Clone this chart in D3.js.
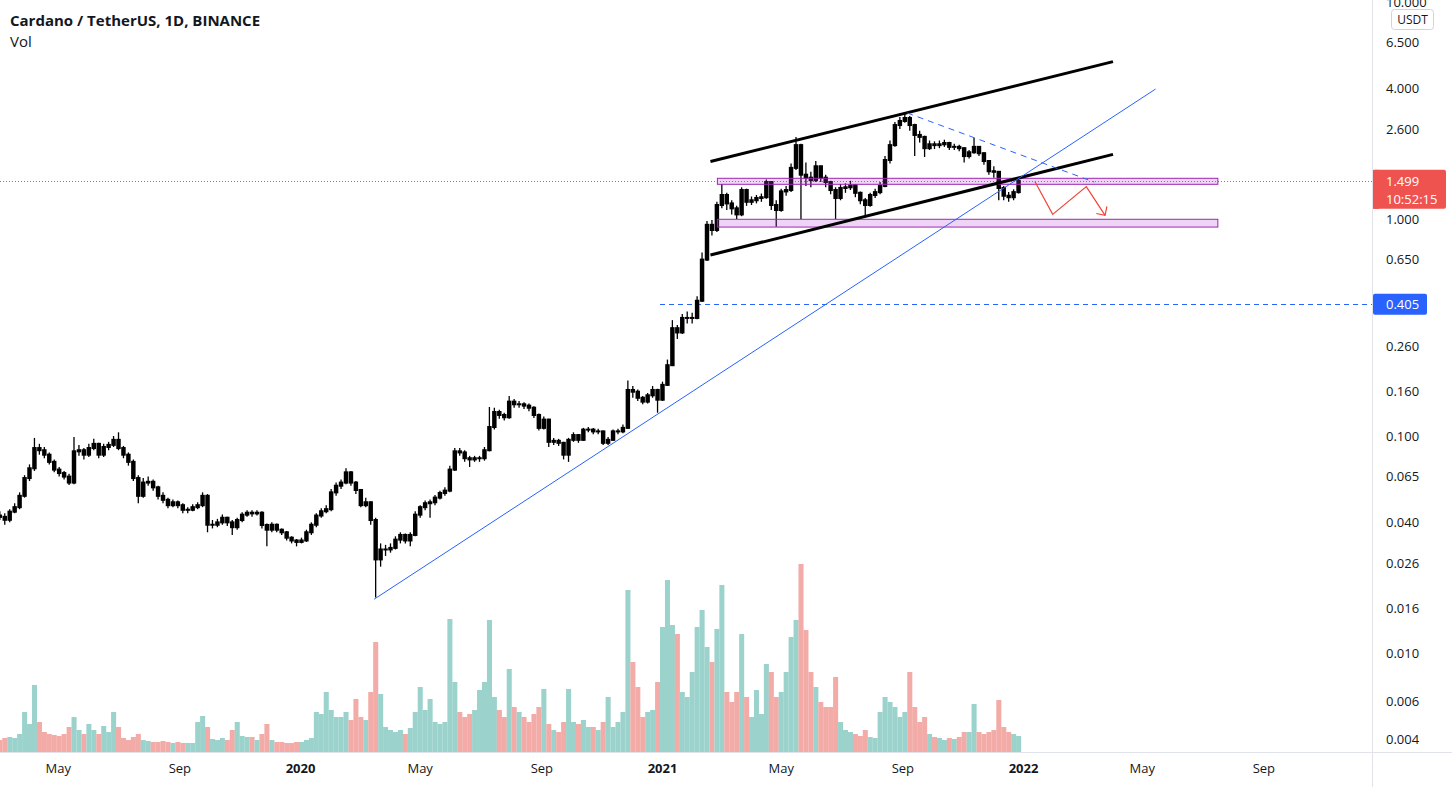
<!DOCTYPE html>
<html><head><meta charset="utf-8">
<script src="https://cdn.jsdelivr.net/npm/d3@7"></script>
<style>
html,body{margin:0;padding:0;background:#fff;overflow:hidden;}
svg{display:block;font-family:"Open Sans","Noto Sans",sans-serif;}
</style></head><body>
<svg id="chart" width="1452" height="787"></svg>
<script>
// ---------- data (5-day candles) ----------
const periodStart = "2019-03-01";
const periodDays = 5;
const firstOpen = 0.043;
const closes = [
0.0424,0.0411,0.0448,0.047,0.053,0.064,0.071,0.088,0.086,0.082,
0.076,0.070,0.0675,0.065,0.061,0.085,0.086,0.082,0.088,0.092,
0.082,0.089,0.091,0.096,0.088,0.082,0.076,0.064,0.053,0.061,
0.0615,0.058,0.053,0.0508,0.048,0.0495,0.048,0.0457,0.0457,0.047,
0.048,0.053,0.039,0.039,0.040,0.042,0.040,0.038,0.041,0.0434,
0.0443,0.044,0.0443,0.0389,0.037,0.039,0.037,0.036,0.034,0.033,
0.0325,0.033,0.036,0.039,0.043,0.045,0.046,0.055,0.059,0.061,
0.068,0.061,0.0564,0.048,0.0495,0.041,0.027,0.030,0.030,0.0305,
0.0333,0.035,0.033,0.035,0.0434,0.047,0.049,0.0495,0.052,0.0546,
0.056,0.070,0.085,0.084,0.079,0.078,0.079,0.079,0.086,0.110,
0.129,0.125,0.122,0.144,0.140,0.140,0.138,0.135,0.125,0.109,
0.119,0.094,0.095,0.093,0.082,0.096,0.101,0.096,0.107,0.107,
0.105,0.105,0.093,0.096,0.105,0.105,0.109,0.163,0.160,0.150,
0.144,0.154,0.163,0.147,0.172,0.212,0.314,0.300,0.350,0.350,
0.350,0.420,0.650,0.94,0.89,1.16,1.29,1.18,1.12,1.05,
1.36,1.20,1.22,1.25,1.26,1.48,1.16,1.10,1.34,1.36,
1.72,2.19,1.60,1.55,1.51,1.75,1.55,1.48,1.36,1.25,
1.39,1.40,1.43,1.32,1.22,1.16,1.29,1.33,1.42,1.87,
2.19,2.71,2.83,2.92,2.71,2.44,2.39,2.12,2.21,2.19,
2.21,2.24,2.15,2.15,2.12,1.95,2.03,2.15,2.01,1.85,
1.66,1.65,1.39,1.28,1.26,1.33,1.499
];
const highs = [
0.045,0.044,0.046,0.049,0.055,0.066,0.074,0.098,0.092,0.089,
0.084,0.078,0.072,0.069,0.067,0.099,0.091,0.088,0.092,0.097,
0.093,0.092,0.094,0.100,0.104,0.090,0.084,0.078,0.066,0.064,
0.065,0.063,0.059,0.055,0.052,0.051,0.0505,0.049,0.047,0.0485,
0.0495,0.055,0.054,0.041,0.0415,0.0435,0.0425,0.041,0.042,0.0445,
0.0455,0.0455,0.0455,0.045,0.0395,0.040,0.0395,0.0375,0.0365,0.0345,
0.0335,0.034,0.037,0.040,0.044,0.0465,0.048,0.057,0.061,0.063,
0.071,0.069,0.062,0.057,0.052,0.050,0.042,0.032,0.0315,0.032,
0.0345,0.036,0.0355,0.036,0.045,0.048,0.0505,0.051,0.0535,0.056,
0.058,0.073,0.088,0.088,0.086,0.081,0.081,0.081,0.089,0.136,
0.135,0.132,0.128,0.153,0.148,0.145,0.143,0.141,0.137,0.127,
0.123,0.120,0.098,0.097,0.094,0.098,0.104,0.102,0.109,0.110,
0.109,0.108,0.106,0.099,0.107,0.108,0.113,0.180,0.170,0.164,
0.153,0.158,0.170,0.165,0.178,0.225,0.342,0.325,0.365,0.375,
0.370,0.440,0.700,0.98,0.99,1.20,1.45,1.32,1.22,1.15,
1.40,1.38,1.27,1.29,1.31,1.52,1.49,1.22,1.38,1.42,
1.80,2.39,2.22,1.82,1.65,1.85,1.76,1.60,1.50,1.40,
1.45,1.46,1.50,1.45,1.34,1.25,1.32,1.38,1.48,1.95,
2.30,2.80,2.95,3.10,2.98,2.75,2.55,2.42,2.30,2.28,
2.30,2.32,2.27,2.22,2.20,2.14,2.08,2.36,2.17,2.03,
1.87,1.75,1.66,1.42,1.33,1.37,1.52
];
const lows = [
0.041,0.039,0.040,0.044,0.046,0.052,0.062,0.069,0.082,0.079,
0.074,0.068,0.065,0.063,0.0595,0.060,0.081,0.078,0.080,0.086,
0.079,0.080,0.086,0.089,0.086,0.079,0.073,0.062,0.049,0.052,
0.059,0.056,0.051,0.049,0.0465,0.047,0.0465,0.044,0.044,0.045,
0.046,0.047,0.036,0.0375,0.038,0.039,0.0385,0.035,0.037,0.040,
0.0425,0.0425,0.043,0.0375,0.031,0.036,0.036,0.035,0.033,0.032,
0.031,0.032,0.0325,0.035,0.038,0.042,0.044,0.045,0.053,0.057,
0.060,0.059,0.054,0.047,0.047,0.039,0.018,0.025,0.028,0.029,
0.030,0.032,0.032,0.031,0.0345,0.042,0.0455,0.042,0.048,0.051,
0.053,0.055,0.069,0.081,0.076,0.072,0.076,0.076,0.077,0.085,
0.107,0.120,0.118,0.120,0.135,0.135,0.133,0.130,0.121,0.106,
0.107,0.089,0.091,0.090,0.078,0.076,0.094,0.093,0.095,0.104,
0.102,0.102,0.091,0.091,0.095,0.102,0.103,0.108,0.150,0.145,
0.140,0.141,0.150,0.128,0.145,0.170,0.210,0.280,0.295,0.330,
0.330,0.345,0.415,0.64,0.84,0.87,1.12,1.10,1.05,1.00,
1.03,1.15,1.16,1.18,1.20,1.24,1.10,0.92,1.08,1.28,
1.33,1.68,1.00,1.42,1.40,1.48,1.48,1.40,1.30,1.00,
1.22,1.32,1.36,1.26,1.17,1.02,1.14,1.25,1.30,1.40,
1.80,2.15,2.60,2.78,2.55,1.95,2.25,1.93,2.08,2.10,
2.12,2.15,2.08,2.08,2.05,1.82,1.90,2.00,1.95,1.78,
1.60,1.55,1.22,1.22,1.20,1.22,1.31
];
// volume, tens of millions ADA
const volumes = [
12,14,15,14,18,40,28,67,30,20,
18,17,16,18,25,35,22,18,28,22,
18,26,20,40,25,14,12,15,18,12,
11,10,10,11,10,9,10,9,9,9,
30,36,25,13,12,14,12,22,30,16,
15,15,12,18,28,12,10,10,9,9,
10,10,12,14,40,38,60,42,35,35,
40,32,53,35,32,60,110,58,25,22,
20,22,18,24,40,65,42,53,30,28,
30,133,70,40,35,38,42,62,70,132,
55,42,35,83,45,40,35,30,38,45,
63,28,22,20,30,63,30,28,32,25,
25,22,30,55,25,30,40,162,90,65,
35,40,42,70,125,172,127,118,60,55,
80,125,142,105,90,123,167,60,50,60,
118,55,35,62,38,88,80,55,60,80,
115,132,188,122,80,65,50,45,45,75,
30,22,20,18,16,22,15,14,40,55,
50,45,35,40,80,45,30,35,18,15,
14,12,14,13,15,20,20,48,20,18,
20,22,52,25,20,18,16
];
const priceTicks = [10, 6.5, 4, 2.6, 1.6, 1, 0.65, 0.26, 0.16, 0.1, 0.065, 0.04, 0.026, 0.016, 0.01, 0.006, 0.004];
const timeTicks = ["2019-05-01","2019-09-01","2020-01-01","2020-05-01","2020-09-01","2021-01-01","2021-05-01","2021-09-01","2022-01-01","2022-05-01","2022-09-01"];
const timeTickLabels = ["May","Sep","2020","May","Sep","2021","May","Sep","2022","May","Sep"];
const lastPrice = 1.499;
const countdown = "10:52:15";
const levelPrice = 0.405;
const levelStart = "2020-12-30";
const channelUpper = [["2021-02-19",1.84],["2022-04-02",5.31]];
const channelLower = [["2021-02-19",0.682],["2022-04-02",1.986]];
const trendLine = [["2020-03-16",0.0177],["2022-05-15",3.97]];
const dashedTrend = [["2021-09-06",3.08],["2022-03-14",1.48]];
const zones = [
  {from:"2021-02-26", to:"2022-07-17", top:1.54, bottom:1.445},
  {from:"2021-02-26", to:"2022-07-17", top:0.997, bottom:0.918}
];
const arrowPath = [["2022-01-13",1.49],["2022-01-31",1.05],["2022-03-06",1.41],["2022-03-25",1.04]];

// ---------- layout ----------
const W = 1452, H = 787, paneRight = 1372, paneBottom = 752;
const parse = d3.utcParse("%Y-%m-%d");
const x = d3.scaleUtc().domain([parse("2020-01-01"), parse("2022-01-01")]).range([300, 1023]);
const y = d3.scaleLog().domain([1, 0.1]).range([219, 436]);
const yVol = d3.scaleLinear().domain([0, 188]).range([paneBottom, paneBottom - 188]);

const svg = d3.select("#chart");
svg.append("rect").attr("width", W).attr("height", H).attr("fill", "#fff");
svg.append("defs").append("clipPath").attr("id", "pane")
  .append("rect").attr("x", 0).attr("y", 0).attr("width", paneRight).attr("height", paneBottom);
const pane = svg.append("g").attr("clip-path", "url(#pane)");

const start = parse(periodStart);
const candles = closes.map((c, i) => {
  const t0 = d3.utcDay.offset(start, i * periodDays);
  const t1 = d3.utcDay.offset(start, (i + 1) * periodDays);
  const open = i === 0 ? firstOpen : closes[i - 1];
  return {t0, t1, open, close: c, high: highs[i], low: lows[i], vol: volumes[i]};
});
const cx = d => (x(d.t0) + x(d.t1)) / 2;
const step = d => (x(d.t1) - x(d.t0));

// volume
pane.append("g").selectAll("rect").data(candles).join("rect")
  .attr("x", d => cx(d) - step(d) / 2)
  .attr("width", d => step(d) + 0.1)
  .attr("y", d => yVol(d.vol))
  .attr("height", d => paneBottom - yVol(d.vol))
  .attr("fill", d => d.close >= d.open ? "#9bd3cc" : "#f3aba7");

// last price dotted line
pane.append("line").attr("x1", 0).attr("x2", paneRight)
  .attr("y1", Math.round(y(lastPrice)) + 0.5).attr("y2", Math.round(y(lastPrice)) + 0.5)
  .attr("stroke", "#ef5350").attr("stroke-width", 1).attr("stroke-dasharray", "1,2");

// horizontal level
pane.append("line").attr("x1", x(parse(levelStart))).attr("x2", paneRight)
  .attr("y1", Math.round(y(levelPrice)) + 0.5).attr("y2", Math.round(y(levelPrice)) + 0.5)
  .attr("stroke", "#2962ff").attr("stroke-width", 1).attr("stroke-dasharray", "5,4");

// candles
const cg = pane.append("g");
cg.selectAll("line").data(candles).join("line")
  .attr("x1", cx).attr("x2", cx)
  .attr("y1", d => y(d.high)).attr("y2", d => y(d.low))
  .attr("stroke", "#000").attr("stroke-width", 1.3);
cg.selectAll("rect").data(candles).join("rect")
  .attr("x", d => cx(d) - step(d) * 0.45)
  .attr("width", d => step(d) * 0.9)
  .attr("y", d => y(Math.max(d.open, d.close)) - 1)
  .attr("height", d => Math.max(2, Math.abs(y(d.open) - y(d.close)) + 2))
  .attr("fill", "#000");

// zones
pane.append("g").selectAll("rect").data(zones).join("rect")
  .attr("x", d => x(parse(d.from))).attr("width", d => x(parse(d.to)) - x(parse(d.from)))
  .attr("y", d => y(d.top)).attr("height", d => y(d.bottom) - y(d.top))
  .attr("fill", "rgba(186,60,210,0.22)").attr("stroke", "#9c27b0").attr("stroke-width", 1);

const pt = p => [x(parse(p[0])), y(p[1])];
const line = d3.line();
// channel
[channelUpper, channelLower].forEach(c => {
  pane.append("path").attr("d", line(c.map(pt))).attr("stroke", "#000")
    .attr("stroke-width", 3).attr("fill", "none");
});
// trend lines
pane.append("path").attr("d", line(trendLine.map(pt))).attr("stroke", "#2962ff")
  .attr("stroke-width", 1).attr("fill", "none");
pane.append("path").attr("d", line(dashedTrend.map(pt))).attr("stroke", "#2962ff")
  .attr("stroke-width", 1).attr("stroke-dasharray", "6,5").attr("fill", "none");
// arrow
const ap = arrowPath.map(pt);
pane.append("path").attr("d", line(ap)).attr("stroke", "#f44336")
  .attr("stroke-width", 1.2).attr("fill", "none");
{
  const [a, b] = ap.slice(-2);
  const ang = Math.atan2(b[1] - a[1], b[0] - a[0]);
  const L = 9;
  const w1 = [b[0] - L * Math.cos(ang - Math.PI / 4), b[1] - L * Math.sin(ang - Math.PI / 4)];
  const w2 = [b[0] - L * Math.cos(ang + Math.PI / 4), b[1] - L * Math.sin(ang + Math.PI / 4)];
  pane.append("path").attr("d", line([w1, b, w2])).attr("stroke", "#f44336")
    .attr("stroke-width", 1.2).attr("fill", "none");
}

// separators
svg.append("line").attr("x1", 0).attr("x2", W).attr("y1", paneBottom + 0.5).attr("y2", paneBottom + 0.5)
  .attr("stroke", "#e0e3eb");
svg.append("line").attr("x1", paneRight + 0.5).attr("x2", paneRight + 0.5).attr("y1", 0).attr("y2", H)
  .attr("stroke", "#e0e3eb");

// price axis
const yAxis = d3.axisRight(y).tickValues(priceTicks).tickFormat(d3.format(".3f")).tickSize(0).tickPadding(14);
const ya = svg.append("g").attr("transform", `translate(${paneRight},0)`).call(yAxis);
ya.select(".domain").remove();
ya.selectAll("text").attr("fill", "#131722").style("font-size", "13px").style("font-family", '"Open Sans","Noto Sans",sans-serif');

// time axis
const xAxis = d3.axisBottom(x).tickValues(timeTicks.map(parse))
  .tickFormat((d, i) => timeTickLabels[i]).tickSize(0).tickPadding(12);
const xa = svg.append("g").attr("transform", `translate(0,${paneBottom})`).call(xAxis);
xa.select(".domain").remove();
xa.selectAll("text").attr("fill", "#131722").style("font-size", "13px")
  .style("font-family", '"Open Sans","Noto Sans",sans-serif')
  .style("font-weight", (d, i) => /^\d{4}$/.test(timeTickLabels[i]) ? 700 : 400);

// USDT box
svg.append("rect").attr("x", 1391.5).attr("y", 9.5).attr("width", 42).attr("height", 20).attr("rx", 3)
  .attr("fill", "#fff").attr("stroke", "#d1d4dc");
svg.append("text").attr("x", 1412.5).attr("y", 23.5).attr("text-anchor", "middle")
  .attr("fill", "#131722").style("font-size", "12px").text("USDT");

// last price label
{
  const yl = y(lastPrice);
  const g = svg.append("g");
  g.append("rect").attr("x", paneRight + 1).attr("y", yl - 11).attr("width", 73).attr("height", 39).attr("rx", 2)
    .attr("fill", "#ef5350");
  g.append("rect").attr("x", paneRight + 1).attr("y", yl - 11).attr("width", 6).attr("height", 39).attr("fill", "#ef5350");
  g.append("text").attr("x", 1386).attr("y", yl + 5).attr("fill", "#fff").style("font-size", "13px")
    .text(d3.format(".3f")(lastPrice));
  g.append("text").attr("x", 1386).attr("y", yl + 23).attr("fill", "#fff").style("font-size", "13px")
    .text(countdown);
}
// level label
{
  const yl = y(levelPrice);
  svg.append("rect").attr("x", paneRight + 1).attr("y", yl - 10.5).attr("width", 54).attr("height", 21).attr("rx", 2)
    .attr("fill", "#2962ff");
  svg.append("text").attr("x", 1386).attr("y", yl + 5).attr("fill", "#fff").style("font-size", "13px")
    .text(d3.format(".3f")(levelPrice));
}

// title
svg.append("text").attr("x", 10).attr("y", 26).attr("fill", "#131722")
  .style("font-size", "15px").style("font-weight", 700).text("Cardano / TetherUS, 1D, BINANCE");
svg.append("text").attr("x", 10).attr("y", 47).attr("fill", "#131722")
  .style("font-size", "15px").text("Vol");
</script>
</body></html>
